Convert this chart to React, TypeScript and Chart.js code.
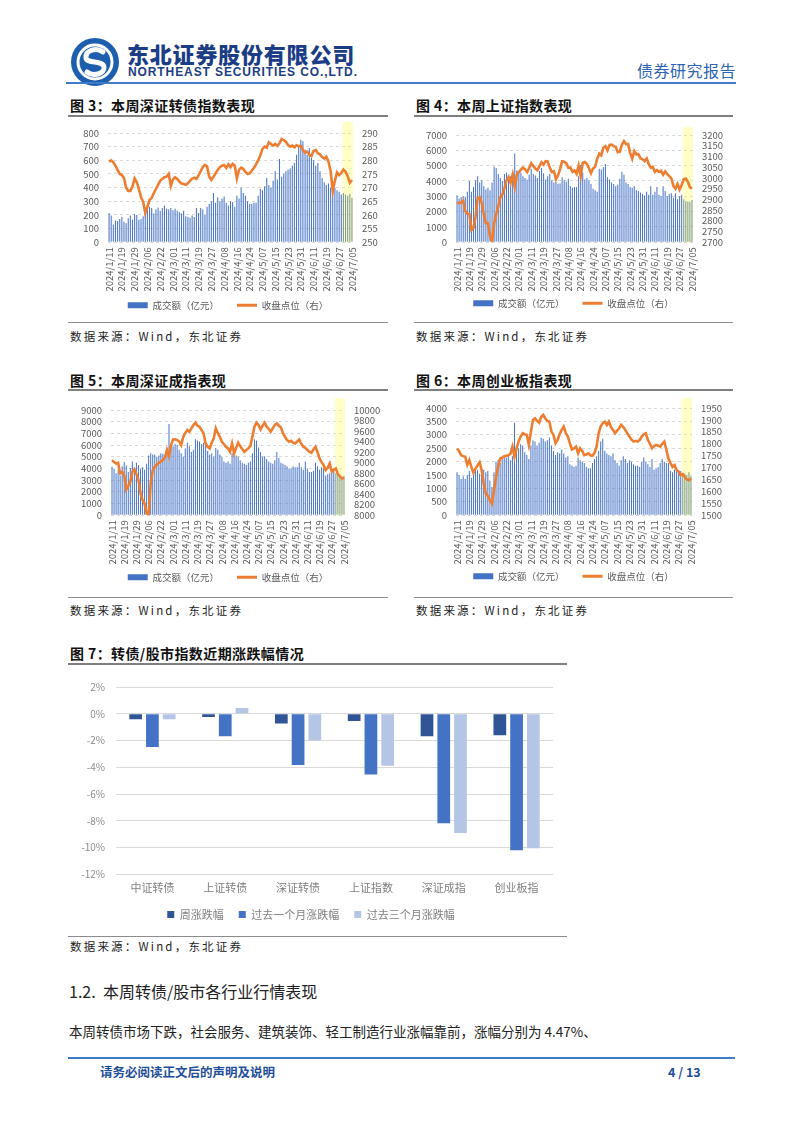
import React, { useEffect, useRef } from 'react';
import { Chart, registerables } from 'chart.js';
Chart.register(...registerables);

const FONT = '"Noto Sans CJK SC", "Noto Sans", sans-serif';
Chart.defaults.font.family = FONT;

// ---------- data ----------
const dates = [
  '2024/1/11','2024/1/12','2024/1/15','2024/1/16','2024/1/17','2024/1/18','2024/1/19','2024/1/22','2024/1/23','2024/1/24',
  '2024/1/25','2024/1/26','2024/1/29','2024/1/30','2024/1/31','2024/2/01','2024/2/02','2024/2/05','2024/2/06','2024/2/07',
  '2024/2/08','2024/2/19','2024/2/20','2024/2/21','2024/2/22','2024/2/23','2024/2/26','2024/2/27','2024/2/28','2024/2/29',
  '2024/3/01','2024/3/04','2024/3/05','2024/3/06','2024/3/07','2024/3/08','2024/3/11','2024/3/12','2024/3/13','2024/3/14',
  '2024/3/15','2024/3/18','2024/3/19','2024/3/20','2024/3/21','2024/3/22','2024/3/25','2024/3/26','2024/3/27','2024/3/28',
  '2024/3/29','2024/4/01','2024/4/02','2024/4/03','2024/4/08','2024/4/09','2024/4/10','2024/4/11','2024/4/12','2024/4/15',
  '2024/4/16','2024/4/17','2024/4/18','2024/4/19','2024/4/22','2024/4/23','2024/4/24','2024/4/25','2024/4/26','2024/4/29',
  '2024/4/30','2024/5/06','2024/5/07','2024/5/08','2024/5/09','2024/5/10','2024/5/13','2024/5/14','2024/5/15','2024/5/16',
  '2024/5/17','2024/5/20','2024/5/21','2024/5/22','2024/5/23','2024/5/24','2024/5/27','2024/5/28','2024/5/29','2024/5/30',
  '2024/5/31','2024/6/03','2024/6/04','2024/6/05','2024/6/06','2024/6/07','2024/6/11','2024/6/12','2024/6/13','2024/6/14',
  '2024/6/17','2024/6/18','2024/6/19','2024/6/20','2024/6/21','2024/6/24','2024/6/25','2024/6/26','2024/6/27','2024/6/28',
  '2024/7/01','2024/7/02','2024/7/03','2024/7/04','2024/7/05',
];

// Fig 3: 深证转债
const szcbVolume = [
  215,195,130,160,155,170,185,150,140,175,
  195,165,205,200,165,170,190,230,255,260,
  250,210,240,255,230,250,270,245,240,250,
  235,245,230,220,210,230,190,185,180,195,
  185,250,215,250,240,200,260,280,300,360,
  290,330,300,320,335,290,270,300,295,260,
  340,320,400,360,340,300,280,280,290,290,
  340,390,380,410,470,420,400,450,520,460,
  610,480,500,520,530,540,560,580,640,700,
  750,740,680,640,690,620,600,560,580,520,
  470,440,420,430,400,380,400,380,370,350,
  360,350,340,355,325,
];
const szcbClose = [
  279.5,280.0,279.3,278.0,276.5,275.0,274.6,273.5,270.0,268.8,
  268.8,270.5,273.4,272.0,269.5,266.5,264.8,260.8,263.0,265.5,
  266.2,268.0,269.5,271.0,272.5,273.2,273.8,274.0,275.0,270.6,
  273.0,273.8,273.2,272.2,271.5,271.3,271.0,271.6,272.5,273.3,
  273.6,273.2,274.5,276.0,277.5,278.3,277.8,274.0,272.8,274.0,
  275.2,276.5,277.5,278.0,278.3,277.2,278.5,277.5,278.7,278.0,
  273.3,276.5,277.3,276.8,275.8,275.0,275.2,276.2,277.3,278.5,
  280.0,281.8,284.2,285.0,284.6,286.6,286.0,285.4,286.0,285.3,
  286.2,287.8,287.4,286.8,285.6,285.0,285.4,284.8,285.5,285.1,
  285.3,283.8,282.8,283.2,282.0,281.6,283.4,283.8,282.6,282.2,
  281.2,280.6,281.3,279.5,276.0,268.8,272.5,275.6,274.6,275.4,
  276.6,275.8,274.2,271.8,272.8,
];

// Fig 4: 上证指数
const shVolume = [
  3050,2850,2950,3000,2950,3300,4000,3300,3600,4050,
  4300,3900,4050,3650,3450,3550,3400,3900,4950,4850,
  4450,4200,4000,4450,4550,4400,4300,4500,5800,4700,
  4500,4550,4300,4200,4100,4400,4800,4450,4350,4200,
  4650,4850,4500,4100,4300,4450,4050,3900,3950,3800,
  3850,4250,4050,3950,4150,3650,3550,3600,3600,4300,
  5050,4550,4100,4200,4050,3800,3500,3400,3300,4800,
  4750,4900,5100,4250,4100,3900,3800,3650,3750,4150,
  4600,4400,3900,3800,3600,3550,3650,3400,3350,3250,
  3150,3050,3300,3100,3650,3100,3300,3600,3100,3000,
  3650,3350,3000,3150,3200,2900,3200,2800,3000,3100,
  2800,2700,2650,2650,2750,
];
const shClose = [
  2886,2882,2886,2894,2845,2833,2832,2756,2766,2820,
  2906,2910,2883,2830,2789,2788,2730,2702,2789,2830,
  2866,2910,2922,2951,2988,3004,2977,3016,2958,3015,
  3027,3039,3048,3040,3027,3046,3068,3055,3044,3036,
  3055,3073,3062,3078,3077,3048,3027,3031,2994,3011,
  3041,3077,3075,3069,3048,3048,3028,3035,3019,3057,
  3008,3071,3074,3065,3045,3022,3044,3052,3089,3113,
  3105,3141,3148,3128,3154,3155,3148,3145,3120,3122,
  3154,3171,3157,3158,3117,3089,3125,3110,3111,3092,
  3087,3078,3091,3065,3048,3051,3028,3037,3028,3033,
  3015,3030,3018,3008,2998,2963,2950,2972,2946,2967,
  2994,2997,2982,2957,2950,
];

// Fig 5: 深证成指
const szVolume = [
  4150,3950,3600,3850,3400,4200,4550,4250,3700,4050,
  4600,4100,4500,4300,4000,4100,3900,4400,5100,5300,
  5200,5200,5000,5100,5300,5250,5100,5800,7800,6000,
  5900,6100,6000,5600,5300,5000,5700,6200,5900,5400,
  5600,6500,6400,6300,6100,6200,6000,5500,5200,5300,
  5000,5750,5600,5200,5000,4600,4500,4600,4400,5300,
  5100,5100,5000,4700,4500,4400,4300,4500,4600,5300,
  6500,6400,5800,5400,5000,5050,4800,4600,4500,4400,
  4700,5400,4900,4500,4400,4300,4200,4000,4000,4200,
  4100,4100,4500,4100,3900,4600,4000,3700,3700,3800,
  4500,4200,3900,4100,4000,3400,3500,3600,3700,3800,
  3600,3500,3400,3300,3350,
];
const szClose = [
  9048,9010,8984,8997,8794,8825,8760,8489,8560,8635,
  8825,8870,8780,8667,8420,8285,8222,8032,8019,8603,
  8857,8921,8960,8997,9020,9048,9100,9238,9124,9333,
  9441,9445,9429,9400,9333,9492,9560,9619,9587,9650,
  9714,9759,9700,9683,9620,9556,9365,9300,9270,9380,
  9460,9651,9560,9492,9397,9350,9302,9270,9206,9365,
  9175,9280,9378,9314,9260,9206,9240,9270,9320,9492,
  9683,9759,9714,9632,9700,9759,9683,9640,9587,9650,
  9714,9746,9700,9670,9560,9492,9430,9397,9416,9380,
  9365,9400,9441,9360,9302,9280,9238,9210,9187,9250,
  9302,9200,9079,9010,8952,8857,8900,8984,8825,8870,
  8889,8781,8740,8698,8711,
];

// Fig 6: 创业板指
const cybVolume = [
  1600,1500,1350,1450,1350,1500,1650,1400,1550,1650,
  1700,1550,1650,1700,1600,1650,1300,1050,1600,2000,
  2050,1950,2100,2200,2150,2250,2050,2200,3450,2600,
  2500,2650,2600,2350,2250,2100,2600,2800,2750,2600,
  2700,2900,2850,2750,2800,2900,2600,2400,2250,2350,
  2300,2450,2300,2150,2200,1900,1850,1800,1850,2150,
  2050,2000,1950,1800,1750,1750,1950,2100,2200,2400,
  2750,2850,2400,2300,2250,2200,2300,2050,1950,1850,
  2050,2200,2100,1950,2050,2000,1900,1850,1850,1800,
  2000,2150,2000,1900,1800,2100,1700,1750,1800,1950,
  2100,2000,1950,1950,1650,1600,1700,1650,1600,1650,
  1550,1550,1500,1600,1450,
];
const cybClose = [
  1780,1770,1752,1748,1745,1712,1732,1703,1678,1695,
  1710,1722,1690,1633,1590,1582,1563,1549,1605,1660,
  1703,1738,1742,1748,1750,1752,1757,1788,1745,1781,
  1810,1830,1844,1840,1837,1795,1851,1900,1907,1896,
  1888,1912,1921,1907,1895,1893,1851,1837,1802,1816,
  1840,1858,1872,1845,1830,1802,1776,1780,1788,1760,
  1781,1770,1752,1755,1760,1752,1750,1762,1788,1844,
  1872,1886,1893,1879,1893,1870,1858,1844,1855,1865,
  1879,1870,1858,1844,1830,1818,1809,1812,1809,1815,
  1830,1840,1844,1816,1800,1781,1790,1795,1792,1788,
  1800,1809,1776,1738,1720,1703,1710,1690,1683,1668,
  1672,1660,1650,1647,1655,
];

// Fig 7
const changeCategories = ['中证转债', '上证转债', '深证转债', '上证指数', '深证成指', '创业板指'];
const weekChange = [-0.41, -0.24, -0.72, -0.55, -1.69, -1.61];
const monthChange = [-2.48, -1.69, -3.83, -4.55, -8.19, -10.2];
const quarterChange = [-0.41, 0.43, -2.0, -3.88, -8.92, -10.05];
const changeSeriesNames = ['周涨跌幅', '过去一个月涨跌幅', '过去三个月涨跌幅'];

// ---------- plugins ----------
const weekBand = {
  id: 'weekBand',
  afterDatasetDraw(chart: any, args: any, opts: any) {
    if (!opts || opts.from == null || args.index !== 0) return;
    const x = chart.scales.x;
    const area = chart.chartArea;
    const half = (x.getPixelForValue(1) - x.getPixelForValue(0)) / 2;
    const x0 = x.getPixelForValue(opts.from) - half;
    const ctx = chart.ctx;
    ctx.save();
    ctx.fillStyle = opts.color;
    ctx.fillRect(x0, opts.top, area.right - x0, area.bottom - opts.top);
    ctx.restore();
  },
};

type ComboProps = {
  L: number; R: number; T: number;
  plotTop: number; plotBottom: number; plotLeft: number; plotRight: number;
  legendY: number; bandTop: number;
  volume: number[]; close: number[];
  yMax: number; yStep: number; y1Min: number; y1Max: number; y1Step: number;
};

function ComboChart(p: ComboProps) {
  const ref = useRef<HTMLCanvasElement>(null);
  const W = p.R - p.L;
  const legendPad = 18;
  const itemH = 9.5;
  const legendTop = p.legendY - legendPad - itemH / 2;
  const H = Math.round(legendTop + itemH + legendPad + 10 - p.T);
  useEffect(() => {
    const chart = new Chart(ref.current as HTMLCanvasElement, {
      type: 'bar',
      data: {
        labels: dates,
        datasets: [
          {
            type: 'bar', label: '成交额（亿元）', data: p.volume, backgroundColor: '#4a76c6',
            yAxisID: 'y', order: 2, barPercentage: 0.5, categoryPercentage: 1,
          } as any,
          {
            type: 'line', label: '收盘点位（右）', data: p.close, borderColor: '#ed7d31',
            borderWidth: 2.6, pointRadius: 0, yAxisID: 'y1', order: 1, tension: 0,
          } as any,
        ],
      },
      plugins: [weekBand as any],
      options: {
        responsive: false,
        animation: false,
        layout: { padding: { top: p.plotTop - p.T, left: 0, right: 0, bottom: 0 } },
        scales: {
          x: {
            grid: { display: false, drawTicks: false },
            border: { display: false },
            afterFit: (s: any) => {
              s.height = legendTop - p.plotBottom;
              // let the rotated date labels run past the axis box instead of being clipped
              s._computeLabelArea = () => undefined;
            },
            ticks: {
              autoSkip: false, minRotation: 90, maxRotation: 90, padding: 5,
              color: '#595959', font: { size: 9.5 },
              callback: (_v: any, i: number) => (i % 6 === 0 ? dates[i] : ''),
            },
          },
          y: {
            position: 'left', min: 0, max: p.yMax,
            ticks: { stepSize: p.yStep, autoSkip: false, color: '#595959', font: { size: 9.5 }, padding: 9,
              callback: (v: any) => String(v) },
            grid: { color: '#d0d0d0', drawTicks: false, lineWidth: 0.8 },
            border: { display: false, dash: [3, 3] },
            afterFit: (s: any) => { s.width = p.plotLeft - p.L; },
          },
          y1: {
            position: 'right', min: p.y1Min, max: p.y1Max,
            ticks: { stepSize: p.y1Step, autoSkip: false, color: '#595959', font: { size: 9.5 }, padding: 9,
              callback: (v: any) => String(v) },
            grid: { display: false, drawTicks: false },
            border: { display: false },
            afterFit: (s: any) => { s.width = p.R - p.plotRight; },
          },
        },
        plugins: {
          legend: {
            position: 'bottom',
            labels: {
              usePointStyle: true, pointStyleWidth: 20, boxHeight: 6, padding: legendPad,
              color: '#595959', font: { size: 9.5 },
              generateLabels: () => [
                { text: '成交额（亿元）', fillStyle: '#4472c4', strokeStyle: '#4472c4', lineWidth: 0, pointStyle: 'rect', hidden: false, datasetIndex: 0, fontColor: '#595959' } as any,
                { text: '收盘点位（右）', fillStyle: '#ed7d31', strokeStyle: '#ed7d31', lineWidth: 3, pointStyle: 'line', hidden: false, datasetIndex: 1, fontColor: '#595959' } as any,
              ],
            },
          },
          tooltip: { enabled: false },
          weekBand: { from: 110, top: p.bandTop - p.T, color: 'rgba(255,255,40,0.26)' },
        } as any,
      },
    });
    return () => chart.destroy();
  }, []);
  return (
    <canvas ref={ref} width={W} height={H}
      style={{ position: 'absolute', left: p.L, top: p.T, width: W, height: H }} />
  );
}

function ChangeChart() {
  const ref = useRef<HTMLCanvasElement>(null);
  const L = 69, R = 567, T = 670;
  const plotTop = 680, plotBottom = 875, plotLeft = 116, plotRight = 553;
  const legendY = 915, legendPad = 15, itemH = 10.5;
  const legendTop = legendY - legendPad - itemH / 2;
  const W = R - L;
  const H = Math.round(legendTop + itemH + legendPad + 10 - T);
  useEffect(() => {
    const colors = ['#2f5597', '#4472c4', '#b4c5e6'];
    const series = [weekChange, monthChange, quarterChange];
    const chart = new Chart(ref.current as HTMLCanvasElement, {
      type: 'bar',
      data: {
        labels: changeCategories,
        datasets: series.map((d, i) => ({
          label: changeSeriesNames[i], data: d, backgroundColor: colors[i],
          barPercentage: 0.76, categoryPercentage: 0.69,
        })),
      },
      options: {
        responsive: false,
        animation: false,
        layout: { padding: { top: plotTop - T, right: R - plotRight, left: 0, bottom: 0 } },
        scales: {
          x: {
            grid: { display: false, drawTicks: false },
            border: { display: false },
            afterFit: (s: any) => { s.height = legendTop - plotBottom; },
            ticks: { color: '#7f7f7f', font: { size: 11 }, padding: 7 },
          },
          y: {
            min: -12, max: 2,
            ticks: { stepSize: 2, autoSkip: false, color: '#8c8c8c', font: { size: 10 }, padding: 11, callback: (v: any) => v + '%' },
            grid: { color: '#d9d9d9', drawTicks: false, lineWidth: 1 },
            border: { display: false },
            afterFit: (s: any) => { s.width = plotLeft - L; },
          },
        },
        plugins: {
          legend: {
            position: 'bottom',
            labels: { boxWidth: 7, boxHeight: 7, padding: legendPad, color: '#7f7f7f', font: { size: 11 } },
          },
          tooltip: { enabled: false },
        },
      },
    });
    return () => chart.destroy();
  }, []);
  return (
    <canvas ref={ref} width={W} height={H}
      style={{ position: 'absolute', left: L, top: T, width: W, height: H }} />
  );
}

// ---------- page pieces ----------
const txt = (s: string, x: number, cy: number, size: number, extra: React.CSSProperties = {}) => (
  <div style={{
    position: 'absolute', left: x, top: cy - size * 0.6, fontSize: size, lineHeight: `${size * 1.2}px`,
    whiteSpace: 'nowrap', fontFamily: FONT, color: '#1a1a1a', ...extra,
  }}>{s}</div>
);
const rule = (x1: number, x2: number, y: number, h: number, color: string) => (
  <div style={{ position: 'absolute', left: x1, top: y - h / 2, width: x2 - x1, height: h, background: color }} />
);

function Figure(props: { num: number; title: string; x1: number; x2: number; titleY: number; lineY: number; ruleY: number; srcY: number }) {
  const { num, title, x1, x2, titleY, lineY, ruleY, srcY } = props;
  return (
    <>
      {txt(`图 ${num}：${title}`, x1 + 2, titleY, 14, { fontWeight: 700, color: '#111', letterSpacing: '0.4px' })}
      {rule(x1, x2, lineY, 1.5, '#7f7f7f')}
      {rule(x1, x2, ruleY, 1, '#8c8c8c')}
      {txt('数据来源：Wind，东北证券', x1 + 2, srcY, 11.5, { letterSpacing: '2.2px', color: '#222' })}
    </>
  );
}

function Logo() {
  return (
    <svg width={50} height={50} viewBox="0 0 50 50" style={{ position: 'absolute', left: 70, top: 37 }}>
      <circle cx={25} cy={25} r={24} fill="#1d5fae" />
      <circle cx={25} cy={25} r={17} fill="none" stroke="#ffffff" strokeWidth={3} />
      <path d="M33 15 C27 10 15 13 16 21 C17 27 33 23 34 30 C35 37 23 40 17 35" fill="none" stroke="#ffffff" strokeWidth={5} strokeLinecap="round" />
    </svg>
  );
}

export default function App() {
  return (
    <div style={{ position: 'absolute', left: 0, top: 0, width: 802, height: 1133, background: '#ffffff', overflow: 'hidden' }}>
      <Logo />
      {txt('东北证券股份有限公司', 127, 53, 22, { fontWeight: 900, color: '#1b3d86', letterSpacing: '0.8px' })}
      {txt('NORTHEAST SECURITIES CO.,LTD.', 128, 72, 12, { fontWeight: 700, color: '#1b3d86', letterSpacing: '0.9px', fontFamily: '"Liberation Sans", sans-serif' })}
      {txt('债券研究报告', 637, 71, 16, { color: '#2b64b3', letterSpacing: '0.5px' })}
      {rule(66, 736, 83, 2, '#3d7cc9')}

      <Figure num={3} title="本周深证转债指数表现" x1={68} x2={388} titleY={105} lineY={116} ruleY={322} srcY={337} />
      <Figure num={4} title="本周上证指数表现" x1={414} x2={733} titleY={105} lineY={116} ruleY={322} srcY={337} />
      <Figure num={5} title="本周深证成指表现" x1={68} x2={388} titleY={380} lineY={390} ruleY={597} srcY={611} />
      <Figure num={6} title="本周创业板指表现" x1={414} x2={733} titleY={380} lineY={390} ruleY={597} srcY={611} />
      <Figure num={7} title="转债/股市指数近期涨跌幅情况" x1={68} x2={567} titleY={653} lineY={664} ruleY={936} srcY={947} />

      <ComboChart L={68} R={388} T={118} plotTop={133} plotBottom={242} plotLeft={108} plotRight={353}
        legendY={305} bandTop={122} volume={szcbVolume} close={szcbClose}
        yMax={800} yStep={100} y1Min={250} y1Max={290} y1Step={5} />
      <ComboChart L={414} R={733} T={120} plotTop={135} plotBottom={242} plotLeft={456} plotRight={693}
        legendY={303} bandTop={127} volume={shVolume} close={shClose}
        yMax={7000} yStep={1000} y1Min={2700} y1Max={3200} y1Step={50} />
      <ComboChart L={68} R={388} T={395} plotTop={410} plotBottom={515} plotLeft={111} plotRight={345}
        legendY={577} bandTop={398} volume={szVolume} close={szClose}
        yMax={9000} yStep={1000} y1Min={8000} y1Max={10000} y1Step={200} />
      <ComboChart L={414} R={733} T={393} plotTop={408} plotBottom={515} plotLeft={456} plotRight={692}
        legendY={576} bandTop={398} volume={cybVolume} close={cybClose}
        yMax={4000} yStep={500} y1Min={1500} y1Max={1950} y1Step={50} />

      <ChangeChart />

      {txt('1.2.', 69, 992, 16, { color: '#222' })}
      {txt('本周转债/股市各行业行情表现', 103, 992, 16, { color: '#222' })}
      {txt('本周转债市场下跌，社会服务、建筑装饰、轻工制造行业涨幅靠前，涨幅分别为 4.47%、', 69, 1031, 13.5, { color: '#222' })}
      {rule(68, 735, 1058, 1.5, '#3d7cc9')}
      {txt('请务必阅读正文后的声明及说明', 100, 1071, 12.5, { fontWeight: 700, color: '#1f4e9a' })}
      {txt('4 / 13', 668, 1071, 12.5, { fontWeight: 700, color: '#1f4e9a' })}
    </div>
  );
}
